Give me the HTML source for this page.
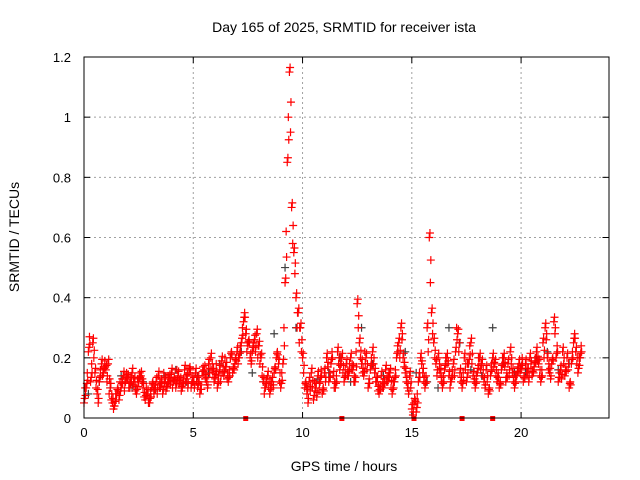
<!DOCTYPE html>
<html><head><meta charset="utf-8"><style>
body{margin:0;background:#fff;}
svg{display:block;font-family:"Liberation Sans",sans-serif;}
</style></head><body>
<svg id="chart" width="640" height="480">
<text x="344" y="32" font-size="14" text-anchor="middle">Day 165 of 2025, SRMTID for receiver ista</text>
<text x="344" y="471" font-size="14" text-anchor="middle">GPS time / hours</text>
<text transform="translate(19,237) rotate(-90)" font-size="14" text-anchor="middle">SRMTID / TECUs</text>
<g id="grid"></g>
<g id="axes"></g>
<g id="black"></g>
<g id="red"></g>
<g id="gaps"></g>
<rect x="84" y="57" width="525" height="361" fill="none" stroke="#000" stroke-width="1"/>
</svg>
<script>
const xTicks=[0,5,10,15,20];
const yTicks=[0,0.2,0.4,0.6,0.8,1,1.2];
const yTickLabels=["0","0.2","0.4","0.6","0.8","1","1.2"];
const redA=[0.05,0.1,0.22,0.12,0.25,0.15,0.08,0.12,0.18,0.15,
0.16,0.18,0.1,0.05,0.04,0.08,0.06,0.1,0.14,0.12,
0.13,0.1,0.15,0.12,0.08,0.12,0.14,0.1,0.06,0.08,
0.05,0.1,0.08,0.12,0.14,0.1,0.08,0.12,0.1,0.13,
0.15,0.12,0.1,0.14,0.12,0.1,0.16,0.13,0.15,0.1,
0.12,0.15,0.1,0.08,0.14,0.16,0.12,0.18,0.2,0.15,
0.13,0.1,0.16,0.19,0.14,0.17,0.12,0.2,0.15,0.18,
0.22,0.2,0.25,0.32,0.28,0.24,0.2,0.22,0.26,0.28,
0.24,0.2,0.12,0.1,0.14,0.08,0.12,0.15,0.2,0.18,
0.1,0.18,0.45,0.85,1.15,0.7,0.55,0.4,0.35,0.3,
0.2,0.1,0.08,0.12,0.15,0.06,0.1,0.14,0.12,0.08,
0.15,0.2,0.12,0.18,0.14,0.1,0.22,0.16,0.2,0.12,
0.18,0.14,0.2,0.16,0.12,0.38,0.25,0.18,0.14,0.2,
0.1,0.16,0.22,0.15,0.12,0.08,0.14,0.1,0.16,0.12,
0.15,0.08,0.12,0.2,0.25,0.3,0.2,0.15,0.1,0.14,
0.03,0.05,0.02,0.12,0.2,0.15,0.1,0.3,0.6,0.35,
0.25,0.18,0.2,0.15,0.1,0.16,0.2,0.14,0.12,0.18,
0.22,0.28,0.15,0.1,0.2,0.12,0.18,0.25,0.14,0.1,
0.15,0.2,0.18,0.12,0.16,0.08,0.14,0.2,0.18,0.12,
0.1,0.16,0.2,0.12,0.18,0.22,0.15,0.1,0.14,0.18,
0.16,0.12,0.18,0.15,0.2,0.14,0.17,0.22,0.18,0.12,
0.25,0.3,0.2,0.15,0.18,0.32,0.2,0.12,0.16,0.22,
0.14,0.2,0.1,0.18,0.25,0.22,0.15,0.2];
const redB=[0.1,0.15,0.27,0.18,0.2,0.1,0.05,0.16,0.14,0.19,
0.12,0.08,0.06,0.03,0.08,0.1,0.12,0.13,0.09,0.15,
0.1,0.14,0.11,0.09,0.13,0.15,0.12,0.07,0.1,0.05,
0.09,0.12,0.11,0.08,0.1,0.13,0.15,0.09,0.14,0.11,
0.1,0.13,0.16,0.11,0.09,0.13,0.12,0.1,0.17,0.14,
0.1,0.12,0.14,0.11,0.17,0.13,0.1,0.15,0.16,0.12,
0.18,0.14,0.12,0.15,0.2,0.13,0.16,0.22,0.17,0.2,
0.18,0.24,0.3,0.35,0.22,0.26,0.18,0.25,0.22,0.2,
0.18,0.14,0.08,0.13,0.1,0.12,0.1,0.17,0.22,0.12,
0.15,0.3,0.62,1.0,0.95,0.58,0.48,0.3,0.25,0.22,
0.15,0.12,0.05,0.09,0.1,0.12,0.07,0.09,0.16,0.1,
0.12,0.17,0.15,0.22,0.1,0.14,0.18,0.2,0.15,0.16,
0.14,0.18,0.16,0.12,0.22,0.3,0.2,0.15,0.22,0.16,
0.13,0.2,0.18,0.12,0.09,0.11,0.1,0.13,0.12,0.15,
0.1,0.12,0.16,0.24,0.2,0.26,0.17,0.12,0.08,0.1,
0.01,0.06,0.08,0.15,0.18,0.12,0.14,0.22,0.45,0.28,
0.2,0.14,0.16,0.12,0.14,0.2,0.18,0.1,0.16,0.14,
0.3,0.22,0.12,0.15,0.16,0.18,0.24,0.18,0.12,0.14,
0.2,0.16,0.14,0.1,0.12,0.1,0.18,0.17,0.14,0.15,
0.12,0.2,0.17,0.15,0.14,0.18,0.12,0.14,0.17,0.15,
0.2,0.14,0.15,0.12,0.18,0.16,0.2,0.19,0.14,0.16,
0.2,0.26,0.16,0.13,0.2,0.28,0.24,0.15,0.13,0.18,
0.17,0.16,0.12,0.22,0.28,0.18,0.2,0.24];
const blackVals=[0.08,0.12,0.1,0.14,0.1,0.12,0.09,0.14,0.16,0.12,0.14,0.15,0.18,0.2,0.22,0.15,0.12,0.28,0.5,0.3,0.1,0.13,0.15,0.2,0.12,0.3,0.18,0.14,0.12,0.22,0.15,0.12,0.1,0.3,0.25,0.16,0.14,0.3,0.18,0.15,0.15,0.2,0.22,0.16,0.18,0.2];
const gapHours=[7.4,11.8,15.1,17.3,18.7];
const ns="http://www.w3.org/2000/svg";
const X0=84,X1=608.5,Y0=418,Y1=57;
const xs=h=>X0+h/24*(X1-X0);
const ys=v=>Y0-v/1.2*(Y0-Y1);
function mk(tag,attrs,parent){const e=document.createElementNS(ns,tag);for(const k in attrs)e.setAttribute(k,attrs[k]);parent.appendChild(e);return e;}
const grid=document.getElementById('grid'),axes=document.getElementById('axes');
xTicks.forEach(t=>{
 const x=xs(t);
 if(t>0){const l=mk('line',{x1:x,x2:x,y1:Y1,y2:Y0,stroke:'#a0a0a0','stroke-dasharray':'2,3'},grid);
 
 }
 mk('line',{x1:x,x2:x,y1:Y0,y2:Y0-6,stroke:'#000'},axes);
 mk('line',{x1:x,x2:x,y1:Y1,y2:Y1+6,stroke:'#000'},axes);
 const tx=mk('text',{x:x,y:Y0+19,'font-size':13,'text-anchor':'middle'},axes);
 tx.textContent=t;
 
 
});
yTicks.forEach((t,i)=>{
 const y=ys(t);
 if(t>0&&t<1.2){const l=mk('line',{x1:X0,x2:X1,y1:y,y2:y,stroke:'#a0a0a0','stroke-dasharray':'2,3'},grid);
 
 }
 mk('line',{x1:X0,x2:X0+6,y1:y,y2:y,stroke:'#000'},axes);
 mk('line',{x1:X1,x2:X1-6,y1:y,y2:y,stroke:'#000'},axes);
 const tx=mk('text',{x:X0-13,y:y+5,'font-size':13,'text-anchor':'end'},axes);
 tx.textContent=yTickLabels[i];
 
 
});
function cross(g,h,v,col){
 const x=xs(h),y=ys(v);
 const p=mk('path',{d:`M${x-4},${y}h8M${x},${y-4}v8`,stroke:col,'stroke-width':1.2},g);
 
 
}
const bg=document.getElementById('black'),rg=document.getElementById('red');
blackVals.forEach((v,i)=>cross(bg,i*0.5+0.2,v,'#404040'));
redA.forEach((v,i)=>{cross(rg,i*0.1,v,'#ff0000');cross(rg,i*0.1+0.03,v+0.015,'#ff0000');});
redB.forEach((v,i)=>{cross(rg,i*0.1+0.05,v,'#ff0000');cross(rg,i*0.1+0.07,(v+redA[i])/2,'#ff0000');});
const gg=document.getElementById('gaps');
gapHours.forEach(h=>{
 const r=mk('rect',{x:xs(h)-2.5,y:Y0-2,width:5,height:5,fill:'#ff0000'},gg);
 
 
});
</script>
</body></html>
